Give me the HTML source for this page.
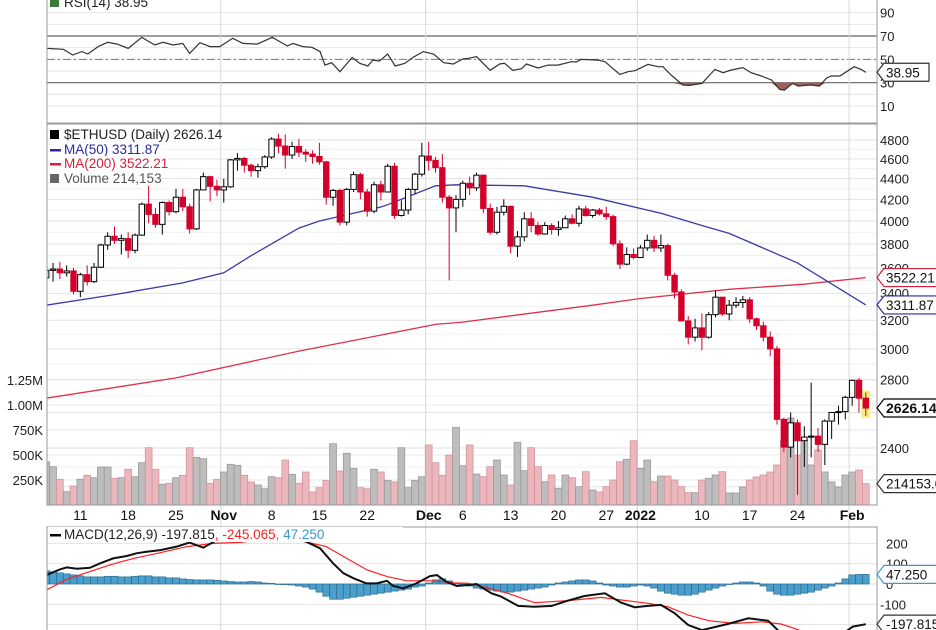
<!DOCTYPE html>
<html><head><meta charset="utf-8"><style>
body{margin:0;background:#fff;}
svg{display:block;font-family:"Liberation Sans",Arial,sans-serif;}
</style></head><body>
<svg id="chart" width="936" height="630" viewBox="0 0 936 630" xmlns="http://www.w3.org/2000/svg">
<defs>
<clipPath id="cr"><rect x="47" y="0" width="830" height="123"/></clipPath>
<clipPath id="cp"><rect x="47" y="124" width="830" height="381"/></clipPath>
<clipPath id="cm"><rect x="47" y="527" width="830" height="103"/></clipPath>
</defs>
<g id="grid"></g>
<g id="vol" clip-path="url(#cp)"></g>
<g id="price" clip-path="url(#cp)"></g>
<g id="rsi" clip-path="url(#cr)"></g>
<g id="macd" clip-path="url(#cm)"></g>
<g id="axes"></g>
</svg>
<script>
// ---------- DATA ----------
const dayLabels = ["11","18","25","Nov","8","15","22","Dec","6","13","20","27","2022","10","17","24","Feb"];
const dayLabelIdx = [5,12,19,26,33,40,47,56,61,68,75,82,87,96,103,110,118];
const firstOpen = 3520;
const closes = [3580,3590,3560,3575,3415,3545,3490,3605,3790,3865,
3830,3845,3745,3875,4155,4060,3970,4170,4085,4220,
4130,3930,4290,4420,4325,4290,4320,4590,4605,4535,
4480,4520,4620,4810,4735,4640,4730,4670,4650,4625,
4570,4220,4285,3990,4295,4440,4270,4090,4340,4270,
4525,4050,4100,4295,4445,4630,4585,4510,4220,4120,
4200,4355,4310,4435,4115,3900,4080,4135,3780,3860,
4020,3960,3885,3960,3925,3940,4020,3980,4110,4050,
4100,4065,4040,3800,3630,3710,3685,3765,3830,3765,
3785,3540,3410,3195,3080,3145,3080,3240,3370,3245,
3310,3330,3350,3210,3160,3080,3000,2560,2405,2540,
2440,2460,2465,2420,2550,2600,2605,2690,2795,2685,
2626];
const highs = [3620,3640,3650,3620,3600,3560,3620,3640,3800,3900,
3950,3880,3900,3890,4170,4340,4120,4180,4190,4300,
4300,4160,4300,4460,4430,4390,4400,4600,4660,4620,
4550,4550,4640,4830,4870,4860,4780,4810,4700,4690,
4770,4580,4300,4300,4310,4470,4460,4300,4370,4380,
4550,4560,4190,4310,4460,4770,4780,4620,4650,4240,
4240,4380,4420,4460,4440,4160,4130,4200,4140,3910,
4080,4080,3990,3990,3980,4000,4050,4060,4140,4140,
4110,4120,4130,4060,3830,3770,3760,3790,3880,3870,
3880,3800,3560,3430,3230,3210,3250,3260,3420,3370,
3350,3370,3380,3370,3220,3190,3120,3020,2570,2600,
2560,2520,2780,2510,2560,2600,2640,2700,2800,2810,
2720];
const lows = [3370,3490,3510,3530,3390,3370,3460,3480,3600,3750,
3800,3710,3680,3720,3870,3980,3940,3880,4050,4070,
4090,3890,3920,4290,4180,4230,4170,4310,4480,4460,
4420,4410,4500,4600,4660,4500,4600,4620,4570,4550,
4540,4150,4140,3960,3960,4270,4200,4040,4070,4190,
4270,4020,4040,4060,4250,4420,4480,4460,4170,3500,
3900,4130,4240,4280,4070,3880,3880,4050,3720,3690,
3820,3900,3870,3880,3880,3870,3950,3970,3950,4040,
4030,4050,4010,3780,3590,3620,3670,3680,3740,3730,
3730,3500,3360,3190,3030,3050,2990,3070,3220,3230,
3200,3290,3290,3180,3130,3050,2950,2530,2380,2350,
2160,2300,2350,2380,2310,2450,2530,2560,2640,2600,
2580];
const volumesK = [433,383,257,133,190,257,297,273,380,380,
267,273,357,283,423,573,357,207,217,273,
297,573,477,463,217,257,330,407,397,297,
230,200,163,283,273,450,307,217,330,130,
173,247,613,340,517,367,173,163,357,330,
247,230,573,173,247,283,600,423,297,500,
777,393,600,310,283,383,450,300,200,627,
343,573,383,233,300,167,300,273,183,333,
150,130,183,250,433,457,643,367,450,233,
290,290,250,183,123,123,250,267,300,333,
120,120,180,250,280,300,330,400,650,870,
500,650,400,550,330,230,180,300,330,350,
214];
const ma50Day = [0,10,20,26,30,37,40,49,50,57,60,70,80,90,96,100,110,120];
const ma50Val = [3310,3390,3480,3560,3700,3937,4000,4128,4150,4330,4340,4330,4220,4070,3960,3890,3640,3312];
const ma200Day = [0,19,37,57,61,80,87,100,111,120];
const ma200Val = [2685,2810,2985,3170,3186,3310,3360,3430,3470,3522];
const rsiDay = [0.1,2.5,3.9,5.2,6.1,7.6,9,10.4,12,14,15.9,17.1,18.6,20,21,22.5,24,25.4,27.3,28.8,30.9,33.1,35.3,36.1,37.6,38.9,40.1,40.8,41.8,43,44.8,45.9,47.1,47.8,48.8,50,51.1,52.5,53.7,55.2,56.7,58.2,59.6,61,61.8,
63,65,66.4,67.1,68.3,69.6,70.3,72,73.5,74.9,76.9,77.6,78.3,80.8,81.8,84,85.2,86.2,88.1,89.6,90.3,91.5,93.2,94.2,96,97.9,99.1,100.3,102,103.2,104.7,106.2,107.4,108.1,108.9,109.3,110.1,111.1,112,113.2,114.2,114.9,116.2,118.3,119.3,120];
const rsiVal = [59.4,58.6,53.7,56.6,54.6,60.9,64.6,63.1,59.4,68.9,62.3,64.6,62.3,63.7,55.1,64.3,60.9,60.9,68,63.7,63.1,68.9,61.4,63.7,60.9,60.3,56.6,45.1,47.1,39.4,51.7,46.6,44.3,49.4,48.6,54.6,44.3,46.6,51.7,56.6,54.6,47.1,46,50.3,50.9,
52.3,40.6,46,46.6,40.6,42,46,42.6,45.1,45.1,48,47.7,50,49.4,48,37.1,39.4,40.3,45.7,43.7,43.7,36.6,28,27.7,29.4,41.4,38.6,40.9,42.9,38.6,35.7,32.3,24.3,23.7,27.7,29.4,27.1,27.7,28,27.1,33.7,35.7,35.7,43.7,41.4,38.95];
const macdDay = [0,2,3,4.5,6.4,7.9,9.8,11.8,13.2,14.7,16.7,19.1,21,23,25,28,32,35,38.1,40.1,42,43.5,45,46.9,48.4,49.9,50.8,52.3,54.2,56.2,57.2,58.6,60.1,61.8,
63,65.2,66.6,69.1,71.5,74,76.4,78.8,81.8,84.2,86.2,88.1,90,92,94,96,99.8,102.8,105.7,107.1,110,113,116,118.1,120];
const macdVal = [44,72,82,75,80,102,126,138,151,159,167,184,204,179,217,250,260,240,208,176,102,53,28,3,3,16,-10,-21,3,39,44,11,-10,-5,
0,-46,-62,-108,-112,-108,-82,-59,-46,-92,-115,-108,-103,-144,-202,-227,-197,-169,-181,-227,-290,-320,-260,-210,-197.8];
const sigDay = [0,3,6.4,9.3,12.8,16.7,20.6,24.5,28.4,33,37,41,44,47,50,52.8,56.7,59.7,61.8,64.2,67.6,71.5,76.4,81.3,84.2,88.1,91,94,97,100.8,104.8,107.6,109.5,113,117,120];
const sigVal = [-30,23,61,94,126,154,184,200,205,225,215,184,126,69,36,16,16,6,3,-16,-46,-92,-82,-66,-79,-95,-112,-153,-181,-194,-186,-197,-218,-260,-255,-245];
const histVal = [65,60,55,50,45,40,35,35,35,38,
38,35,35,38,40,40,35,35,30,30,
25,22,20,20,20,18,15,12,10,10,
12,10,5,3,0,-3,-5,-10,-15,-25,
-40,-60,-75,-75,-70,-65,-60,-55,-50,-45,
-40,-35,-30,-25,-15,-10,5,20,25,15,
5,-5,-10,-20,-25,-30,-35,-40,-40,-35,
-30,-25,-20,-15,-5,5,10,15,20,20,
15,5,-5,-10,-15,-15,-10,-5,-10,-20,
-35,-45,-50,-55,-55,-50,-40,-30,-20,-10,
0,5,10,10,5,-10,-35,-50,-55,-55,
-50,-45,-40,-30,-20,-10,5,25,45,47,
47];
const priceTicks = [4800,4600,4400,4200,4000,3800,3600,3400,3200,3000,2800,2400];
const volTicks = [250,500,750,1000,1250];
const volTickLabels = ["250K","500K","750K","1.00M","1.25M"];
const rsiTicks = [90,70,50,30,10];
const macdTicks = [200,100,0,-100];

// ---------- SCALES ----------
const NS="http://www.w3.org/2000/svg";
const X=i=>46.2+6.83*i;
const YP=p=>140+(Math.log(4800)-Math.log(p))*444.4;
const YV=v=>505-v/10;
const YR=r=>82.7-(r-30)*1.1675;
const YM=m=>584-m*0.203;
function mk(parent,tag,attrs,text){const e=document.createElementNS(NS,tag);for(const k in attrs)e.setAttribute(k,attrs[k]);if(text!==undefined)e.textContent=text;document.getElementById(parent).appendChild(e);return e;}
const opens=[firstOpen].concat(closes.slice(0,-1));

// ---------- GRID ----------
for(let v=10;v<=90;v+=10){const e=mk('grid','line',{x1:47,x2:877,y1:YR(v),y2:YR(v),stroke:(v==70||v==30)?'#666':'#e6e6e6','stroke-width':(v==70||v==30)?1.2:1});
}
let e50=mk('grid','line',{x1:47,x2:877,y1:YR(50),y2:YR(50),stroke:'#777','stroke-dasharray':'8,3,2,3'});

for(let p=2200;p<=4800;p+=100){const e=mk('grid','line',{x1:47,x2:877,y1:YP(p),y2:YP(p),stroke:p%200==0?'#e2e2e2':'#f0f0f0'});
}
for(const v of volTicks){const e=mk('grid','line',{x1:47,x2:877,y1:YV(v),y2:YV(v),stroke:'#e8e8e8'});
}
for(const m of [200,100,0,-100,-200]){const e=mk('grid','line',{x1:47,x2:877,y1:YM(m),y2:YM(m),stroke:'#e2e2e2'});
}
for(const i of [26,56,87,118]){const e=mk('grid','line',{x1:X(i)-3,x2:X(i)-3,y1:0,y2:630,stroke:'#d8d8d8'});
}

// ---------- VOLUME ----------
for(let i=0;i<closes.length;i++){const up=closes[i]>=opens[i];
const e=mk('vol','rect',{x:X(i)-3.4,y:YV(volumesK[i]),width:6.8,height:volumesK[i]/10,fill:up?'#bdbdbd':'#eab7bd',stroke:up?'#9a9a9a':'#d8939c','stroke-width':0.8});
}

// ---------- MOVING AVERAGES ----------
function pathFrom(days,vals,fx,fy){return days.map((d,k)=>(k?'L':'M')+fx(d).toFixed(1)+','+fy(vals[k]).toFixed(1)).join('');}
let m200=mk('price','path',{d:pathFrom(ma200Day,ma200Val,X,YP),fill:'none',stroke:'#e0304a','stroke-width':1.3});

let m50=mk('price','path',{d:pathFrom(ma50Day,ma50Val,X,YP),fill:'none',stroke:'#3a3aa8','stroke-width':1.3});


// ---------- CANDLES ----------
const last=closes.length-1;
let hl=mk('price','rect',{x:X(last)-4.5,y:YP(highs[last])-2,width:9,height:YP(lows[last])-YP(highs[last])+4,fill:'#f5f07a'});

for(let i=0;i<closes.length;i++){const up=closes[i]>=opens[i];const col=up?'#000':'#d4002c';
const w=mk('price','line',{x1:X(i),x2:X(i),y1:YP(highs[i]),y2:YP(lows[i]),stroke:col,'stroke-width':1});

const top=YP(Math.max(opens[i],closes[i])),bot=YP(Math.min(opens[i],closes[i]));
const b=mk('price','rect',{x:X(i)-2.7,y:top,width:5.4,height:Math.max(1,bot-top),fill:up?'#fff':'#d4002c',stroke:col,'stroke-width':1});
}

// ---------- RSI ----------
let rsiPts=rsiDay.map((d,k)=>[X(d),YR(rsiVal[k])]);
let area='';
rsiPts.forEach((p,k)=>{area+=(k?'L':'M')+p[0].toFixed(1)+','+Math.max(p[1],YR(30)).toFixed(1);});
area+='L'+rsiPts[rsiPts.length-1][0]+','+YR(30)+'L'+rsiPts[0][0]+','+YR(30)+'Z';
let ra=mk('rsi','path',{d:area,fill:'#a0605a'});

let rl=mk('rsi','path',{d:pathFrom(rsiDay,rsiVal,X,YR),fill:'none',stroke:'#333','stroke-width':1.2});


// ---------- MACD ----------
for(let i=0;i<histVal.length;i++){const v=histVal[i];
const h=mk('macd','rect',{x:X(i)-3.4,y:Math.min(YM(v),YM(0)),width:6.8,height:Math.max(0.5,Math.abs(YM(v)-YM(0))),fill:'#4b9fcc',stroke:'#2b6d92','stroke-width':0.7});
}
let sl=mk('macd','path',{d:pathFrom(sigDay,sigVal,X,YM),fill:'none',stroke:'#ff2020','stroke-width':1.2});

let ml=mk('macd','path',{d:pathFrom(macdDay,macdVal,X,YM),fill:'none',stroke:'#111','stroke-width':2});


// ---------- AXES / FRAMES ----------
for(const r of [[47,-1,830,124],[47,124,830,381],[47,527,830,110]]){const f=mk('axes','rect',{x:r[0],y:r[1],width:r[2],height:r[3],fill:'none',stroke:'#999'});
}
for(const v of rsiTicks){const t=mk('axes','text',{x:880,y:YR(v)+5,'font-size':13,fill:'#222'},String(v));
}
for(const p of priceTicks){const t=mk('axes','text',{x:880,y:YP(p)+5,'font-size':13,fill:'#222'},String(p));
}
volTicks.forEach((v,k)=>{const t=mk('axes','text',{x:43,y:YV(v)+5,'font-size':13,fill:'#222','text-anchor':'end'},volTickLabels[k]);
});
for(const m of macdTicks){const t=mk('axes','text',{x:m<0?880:886,y:YM(m)+5,'font-size':13,fill:'#222'},(m<0?'-':'')+Math.abs(m));
}
dayLabels.forEach((s,k)=>{const bold=isNaN(+s)||s=="2022";
const t=mk('axes','text',{x:X(dayLabelIdx[k]),y:520,'font-size':14,'font-weight':bold?'bold':'normal',fill:'#111','text-anchor':'middle'},s);
});

// legends
function legend(y,parts,w){const bg=mk('axes','rect',{x:48,y:y-12,width:w,height:15,fill:'#fff'});

const t=mk('axes','text',{x:64,y:y,'font-size':13.5});
parts.forEach(p=>{const s=document.createElementNS(NS,'tspan');s.setAttribute('fill',p[1]);s.textContent=p[0];t.appendChild(s);});return t;}
let lg;
lg=legend(7,[["RSI(14) 38.95","#222"]],110);
lg=legend(139,[["$ETHUSD (Daily) 2626.14","#222"]],215);
lg=legend(154,[["MA(50) 3311.87","#2a2aa0"]],115);
lg=legend(168,[["MA(200) 3522.21","#d8203c"]],120);
lg=legend(183,[["Volume 214,153","#555"]],112);
lg=legend(539,[["MACD(12,26,9) -197.815","#222"],[", -245.065","#ff2020"],[", 47.250","#3a9ad0"]],355);
for(const [y,c] of [[7,'#3a7a3a'],[139,'#000'],[183,'#666']]){const ic=mk('axes','rect',{x:50,y:y-9,width:9,height:9,fill:c});
}
for(const [y,c] of [[149,'#2a2aa0'],[163,'#d8203c'],[534,'#000']]){const ic=mk('axes','rect',{x:50,y:y,width:11,height:2.5,fill:c});
}

// value tags
function tag(y,label,stroke,bold,w){const g=mk('axes','path',{d:`M877,${y} L884,${y-9} L${884+w},${y-9} L${884+w},${y+9} L884,${y+9} Z`,fill:'#fff',stroke:stroke,'stroke-width':1.2});

const t=mk('axes','text',{x:886,y:y+5,'font-size':bold?14:13.5,'font-weight':bold?'bold':'normal',fill:'#111'},label);
}
tag(YR(38.95),"38.95","#333",false,45);
tag(YP(3522.21),"3522.21","#d8203c",false,60);
tag(YP(3311.87),"3311.87","#2a2aa0",false,60);
tag(YP(2626.14),"2626.14","#000",true,62);
tag(YV(214),"214153.0","#333",false,60);
tag(YM(47.25),"47.250","#3a9ad0",false,55);
tag(YM(-197.815),"-197.815","#333",false,60);
</script>
</body></html>
